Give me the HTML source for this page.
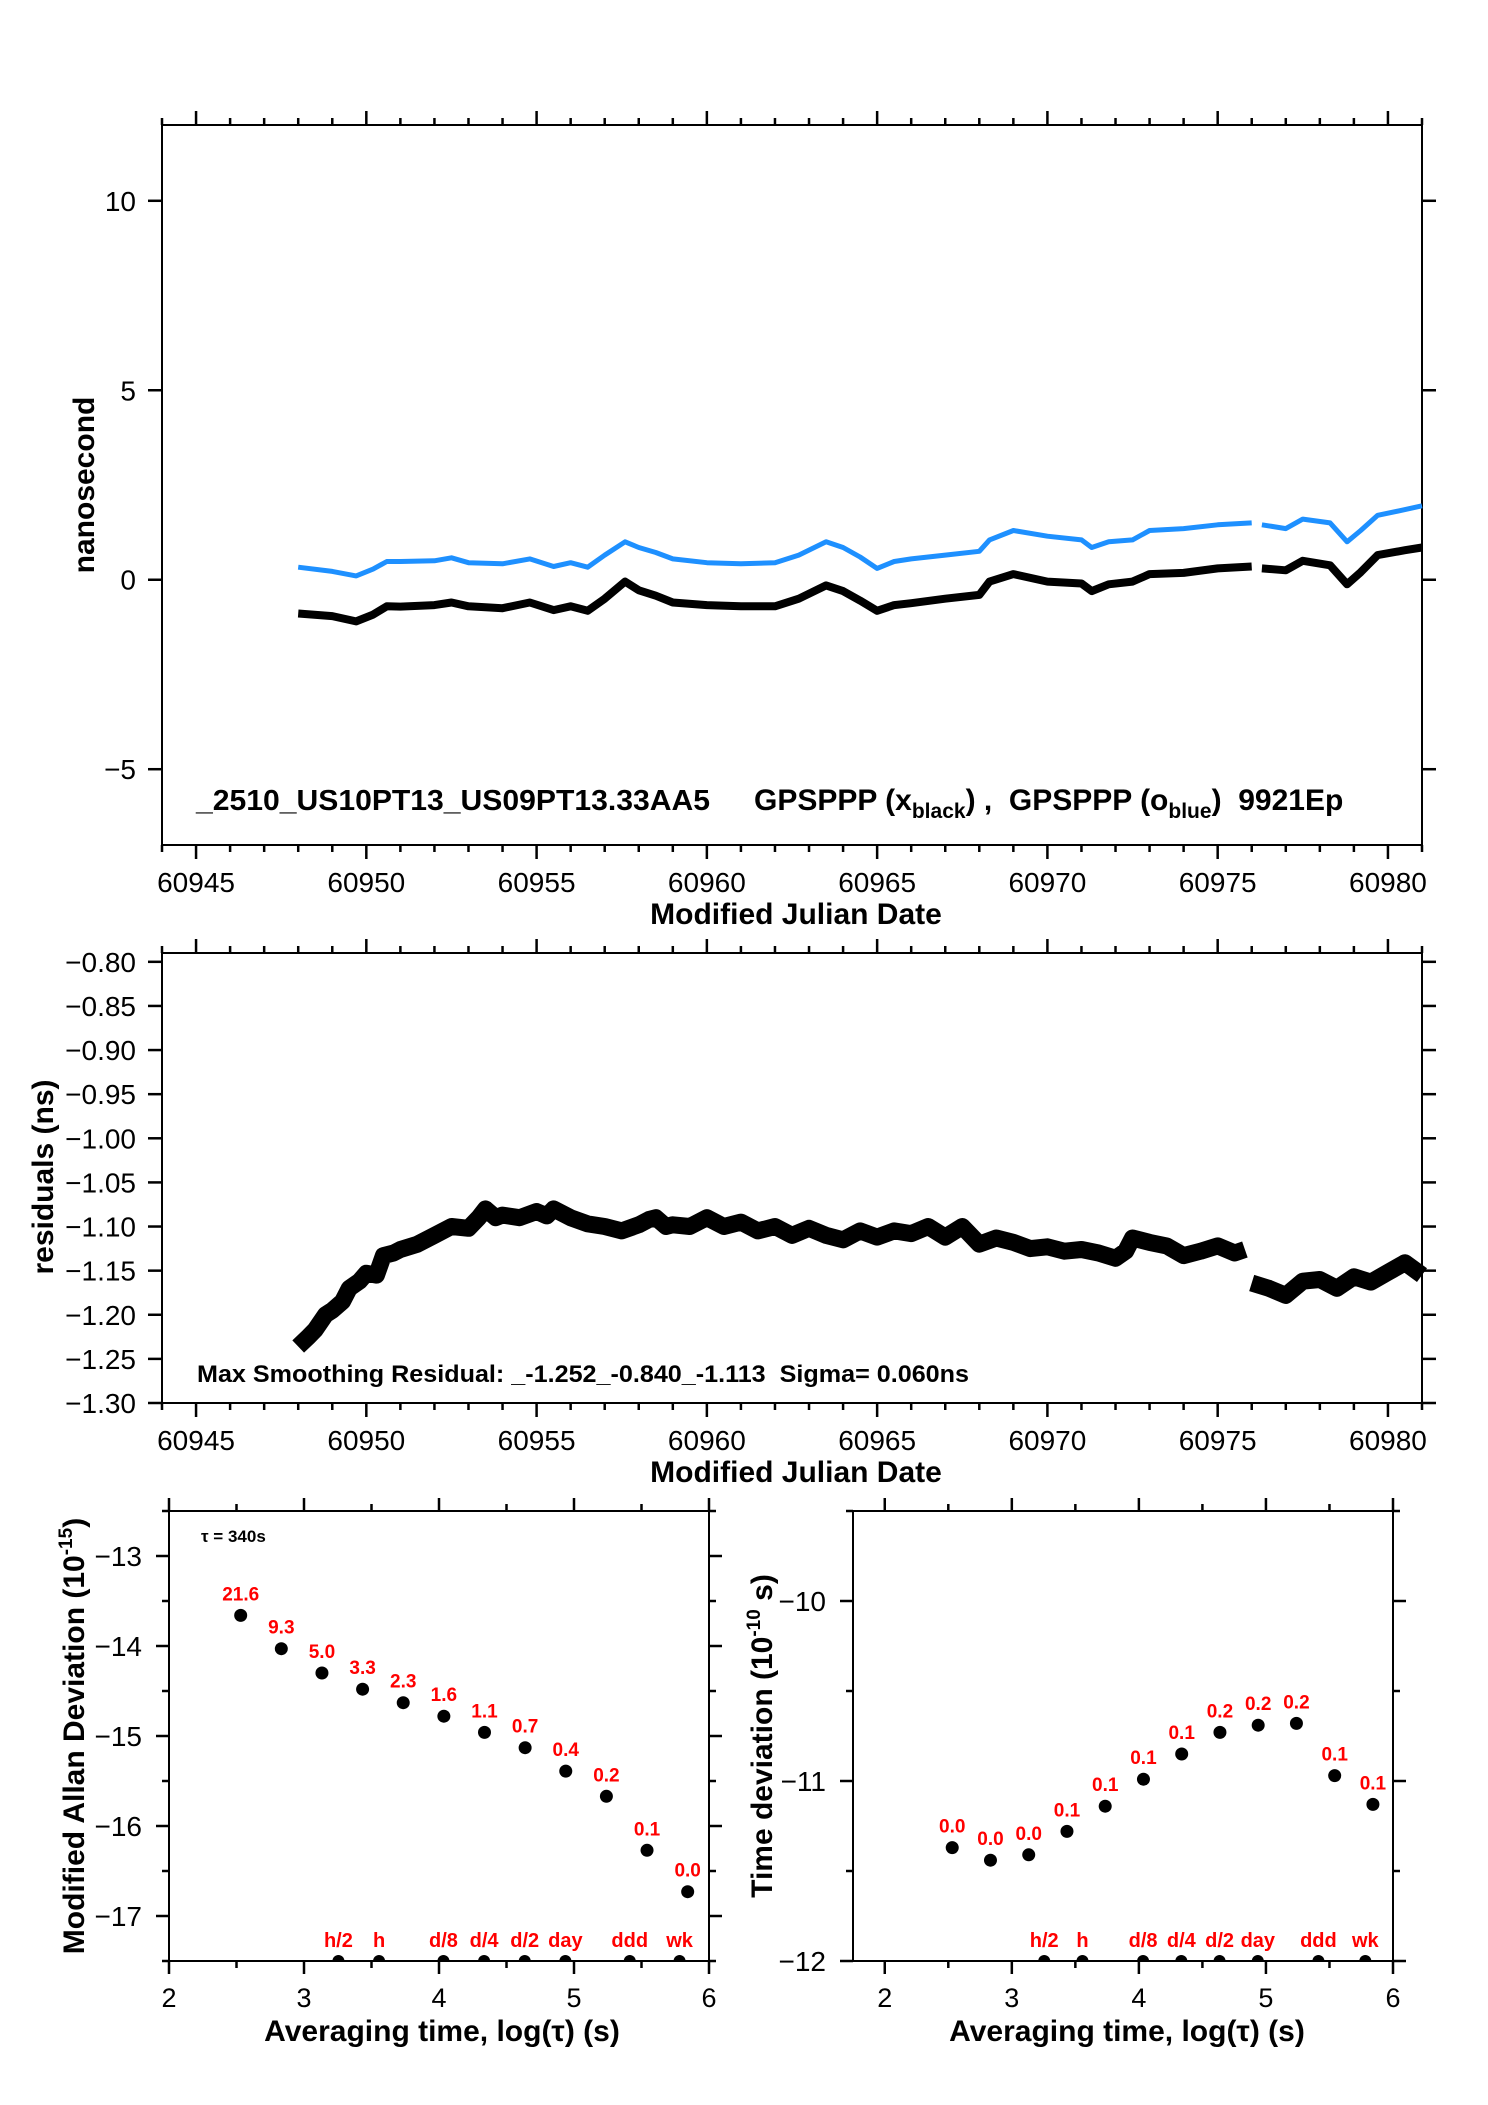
<!DOCTYPE html>
<html><head><meta charset="utf-8"><title>GPSPPP clock comparison</title>
<style>
html,body{margin:0;padding:0;background:#fff;}
svg{display:block;font-family:"Liberation Sans",Arial,sans-serif;}
</style></head>
<body>
<svg id="chart" width="1488" height="2105" viewBox="0 0 1488 2105" xmlns="http://www.w3.org/2000/svg">
<rect width="1488" height="2105" fill="#fff"/>
<g id="g-top"></g>
<g id="g-res"></g>
<g id="g-adev"></g>
<g id="g-tdev"></g>
</svg>
<script>
// ---------- data ----------
const topDays = [60948,60949,60949.7,60950.2,60950.6,60951,60952,60952.5,60953,60954,60954.8,60955.5,60956,60956.5,60957,60957.6,60958,60958.5,60959,60960,60961,60962,60962.7,60963.5,60964,60964.5,60965,60965.5,60966,60967,60968,60968.3,60969,60970,60971,60971.3,60971.8,60972.5,60973,60974,60975,60976,60976.15,60976.3,60977,60977.5,60978.3,60978.8,60979.2,60979.7,60980.5,60981];
const blackNs = [-0.89,-0.96,-1.1,-0.92,-0.7,-0.71,-0.67,-0.6,-0.7,-0.75,-0.6,-0.8,-0.7,-0.82,-0.5,-0.05,-0.28,-0.42,-0.6,-0.67,-0.7,-0.7,-0.5,-0.15,-0.3,-0.55,-0.82,-0.67,-0.62,-0.5,-0.4,-0.05,0.15,-0.05,-0.1,-0.3,-0.12,-0.05,0.15,0.18,0.3,0.35,null,0.3,0.25,0.5,0.38,-0.12,0.2,0.65,0.78,0.85];
const blueNs = [0.33,0.22,0.1,0.28,0.48,0.48,0.5,0.58,0.45,0.42,0.55,0.35,0.45,0.33,0.65,1.0,0.85,0.72,0.55,0.45,0.42,0.45,0.65,1.0,0.85,0.6,0.3,0.48,0.55,0.65,0.75,1.05,1.3,1.15,1.05,0.85,1.0,1.05,1.3,1.35,1.45,1.5,null,1.45,1.35,1.6,1.5,1.0,1.3,1.7,1.85,1.95];
const resDays = [60948,60948.3,60948.5,60948.8,60949,60949.3,60949.5,60949.8,60950,60950.3,60950.5,60950.8,60951,60951.5,60952,60952.5,60953,60953.3,60953.5,60953.8,60954,60954.5,60955,60955.3,60955.5,60956,60956.5,60957,60957.5,60958,60958.3,60958.5,60958.8,60959,60959.5,60960,60960.5,60961,60961.5,60962,60962.5,60963,60963.5,60964,60964.5,60965,60965.5,60966,60966.5,60967,60967.5,60968,60968.5,60969,60969.5,60970,60970.5,60971,60971.5,60972,60972.3,60972.5,60973,60973.5,60974,60974.5,60975,60975.5,60975.8,60975.9,60976,60976.5,60977,60977.5,60978,60978.5,60979,60979.5,60980,60980.5,60981];
const resNs = [-1.236,-1.225,-1.217,-1.2,-1.195,-1.185,-1.17,-1.162,-1.153,-1.155,-1.133,-1.13,-1.126,-1.12,-1.11,-1.1,-1.102,-1.09,-1.08,-1.09,-1.087,-1.09,-1.083,-1.088,-1.08,-1.09,-1.097,-1.1,-1.105,-1.098,-1.092,-1.09,-1.1,-1.098,-1.1,-1.09,-1.1,-1.095,-1.105,-1.1,-1.11,-1.102,-1.11,-1.115,-1.105,-1.112,-1.105,-1.108,-1.1,-1.112,-1.1,-1.12,-1.113,-1.118,-1.125,-1.123,-1.128,-1.126,-1.13,-1.136,-1.128,-1.113,-1.118,-1.122,-1.133,-1.128,-1.122,-1.13,-1.126,null,-1.164,-1.17,-1.178,-1.162,-1.16,-1.17,-1.157,-1.163,-1.152,-1.141,-1.155];
const logTau = [2.531,2.832,3.133,3.434,3.735,4.036,4.337,4.638,4.939,5.240,5.541,5.842];
const adevVals = [-13.66,-14.03,-14.30,-14.48,-14.63,-14.78,-14.96,-15.13,-15.39,-15.67,-16.27,-16.73];
const adevLabels = ["21.6","9.3","5.0","3.3","2.3","1.6","1.1","0.7","0.4","0.2","0.1","0.0"];
const tdevVals = [-11.37,-11.44,-11.41,-11.28,-11.14,-10.99,-10.85,-10.73,-10.69,-10.68,-10.97,-11.13];
const tdevLabels = ["0.0","0.0","0.0","0.1","0.1","0.1","0.1","0.2","0.2","0.2","0.1","0.1"];
const markNames = ["h/2","h","d/8","d/4","d/2","day","ddd","wk"];
const markLog = [3.255,3.556,4.033,4.334,4.635,4.936,5.413,5.782];
const mjdTicks = [60945,60950,60955,60960,60965,60970,60975,60980];
const nsTicks = [-5,0,5,10];
const resTicks = [-0.80,-0.85,-0.90,-0.95,-1.00,-1.05,-1.10,-1.15,-1.20,-1.25,-1.30];
const adevTicks = [-13,-14,-15,-16,-17];
const tdevTicks = [-10,-11,-12];
const logTicks = [2,3,4,5,6];

const NS = "http://www.w3.org/2000/svg";
function mk(parent, tag, attrs, text){
  const e = document.createElementNS(NS, tag);
  for (const k in attrs) e.setAttribute(k, attrs[k]);
  if (text !== undefined) e.textContent = text;
  parent.appendChild(e);
  return e;
}
function lin(d0,d1,r0,r1){ return v => r0 + (v-d0)*(r1-r0)/(d1-d0); }
function pathFrom(xs, ys, sx, sy){
  let d = "", pen = false;
  for (let i=0;i<xs.length;i++){
    if (ys[i]===null){ pen=false; continue; }
    d += (pen?"L":"M") + sx(xs[i]).toFixed(1) + "," + sy(ys[i]).toFixed(1);
    pen = true;
  }
  return d;
}
function frame(g, x0,y0,x1,y1){
  const r = mk(g,"rect",{x:x0,y:y0,width:x1-x0,height:y1-y0,fill:"none",stroke:"#000","stroke-width":2});
  
  
}
function tick(g,x1,y1,x2,y2){
  const l = mk(g,"line",{x1:x1,y1:y1,x2:x2,y2:y2,stroke:"#000","stroke-width":2.5});
  
  
}

// ---------- Panel 1: time offsets ----------
(function(){
  const g = document.getElementById("g-top");
  const X0=162,X1=1422,Y0=125,Y1=845;
  const sx = lin(60944,60981,X0,X1), sy = lin(-7,12,Y1,Y0);
  frame(g,X0,Y0,X1,Y1);
  for (let d=60944; d<=60981; d++){
    const maj = mjdTicks.includes(d);
    const L = maj?14:7;
    tick(g,sx(d),Y0,sx(d),Y0-L);
    tick(g,sx(d),Y1,sx(d),Y1+L);
  }
  mjdTicks.forEach(d=>{
    const t = mk(g,"text",{x:sx(d),y:892,"font-size":28,"text-anchor":"middle"},String(d));
    
    
  });
  nsTicks.forEach(v=>{
    tick(g,X0,sy(v),X0-14,sy(v));
    tick(g,X1,sy(v),X1+14,sy(v));
    const t = mk(g,"text",{x:136,y:sy(v)+10,"font-size":28,"text-anchor":"end"},v<0?"\u2212"+Math.abs(v):String(v));
    
    
  });
  const bp = mk(g,"path",{d:pathFrom(topDays,blueNs,sx,sy),fill:"none",stroke:"#1e90ff","stroke-width":5,"stroke-linejoin":"round"});
  
  
  const kp = mk(g,"path",{d:pathFrom(topDays,blackNs,sx,sy),fill:"none",stroke:"#000","stroke-width":8,"stroke-linejoin":"round"});
  
  
  const yl = mk(g,"text",{x:0,y:0,"font-size":30,"font-weight":"bold","text-anchor":"middle",transform:"translate(94,485) rotate(-90)"},"nanosecond");
  
  
  const xl = mk(g,"text",{x:796,y:924,"font-size":30,"font-weight":"bold","text-anchor":"middle"},"Modified Julian Date");
  
  
  const t1 = mk(g,"text",{x:196,y:810,"font-size":29,"font-weight":"bold",textLength:514,lengthAdjust:"spacingAndGlyphs"},"_2510_US10PT13_US09PT13.33AA5");
  
  
  const t2 = mk(g,"text",{x:754,y:810,"font-size":30,"font-weight":"bold"});
  
  
  mk(t2,"tspan",{},"GPSPPP (x");
  mk(t2,"tspan",{"font-size":21,dy:8},"black");
  mk(t2,"tspan",{dy:-8},")\u00a0,\u00a0\u00a0GPSPPP (o");
  mk(t2,"tspan",{"font-size":21,dy:8},"blue");
  mk(t2,"tspan",{dy:-8},")\u00a0\u00a09921Ep");
})();

// ---------- Panel 2: residuals ----------
(function(){
  const g = document.getElementById("g-res");
  const X0=162,X1=1422,Y0=953,Y1=1403;
  const sx = lin(60944,60981,X0,X1), sy = lin(-1.30,-0.79,Y1,Y0);
  frame(g,X0,Y0,X1,Y1);
  for (let d=60944; d<=60981; d++){
    const maj = mjdTicks.includes(d);
    const L = maj?14:7;
    tick(g,sx(d),Y0,sx(d),Y0-L);
    tick(g,sx(d),Y1,sx(d),Y1+L);
  }
  mjdTicks.forEach(d=>{
    const t = mk(g,"text",{x:sx(d),y:1450,"font-size":28,"text-anchor":"middle"},String(d));
    
    
  });
  resTicks.forEach(v=>{
    tick(g,X0,sy(v),X0-14,sy(v));
    tick(g,X1,sy(v),X1+14,sy(v));
    const t = mk(g,"text",{x:136,y:sy(v)+10,"font-size":28,"text-anchor":"end"},"\u2212"+Math.abs(v).toFixed(2));
    
    
  });
  const rp = mk(g,"path",{d:pathFrom(resDays,resNs,sx,sy),fill:"none",stroke:"#000","stroke-width":17,"stroke-linejoin":"round"});
  
  
  const yl = mk(g,"text",{x:0,y:0,"font-size":30,"font-weight":"bold","text-anchor":"middle",transform:"translate(53,1177) rotate(-90)"},"residuals (ns)");
  
  
  const xl = mk(g,"text",{x:796,y:1482,"font-size":30,"font-weight":"bold","text-anchor":"middle"},"Modified Julian Date");
  
  
  const st = mk(g,"text",{x:197,y:1382,"font-size":24,"font-weight":"bold",textLength:772,lengthAdjust:"spacingAndGlyphs"},"Max Smoothing Residual: _-1.252_-0.840_-1.113\u00a0\u00a0Sigma= 0.060ns");
  
  
})();

// ---------- stability panels ----------
function stabPanel(gid, X0,X1,Y0,Y1, xd0, yd0, yd1, yMaj, yMinStep, vals, labels, labelRight, ylabelX, ylabelMain, ylabelSup, ylabelTail, xlabelX){
  const g = document.getElementById(gid);
  const sx = lin(xd0,6,X0,X1), sy = lin(yd0,yd1,Y1,Y0);
  frame(g,X0,Y0,X1,Y1);
  for (let v=2; v<=6.001; v+=0.5){
    const maj = Math.abs(v-Math.round(v))<1e-6;
    const L = maj?13:7;
    tick(g,sx(v),Y0,sx(v),Y0-L);
    tick(g,sx(v),Y1,sx(v),Y1+L);
  }
  logTicks.forEach(v=>{
    const t = mk(g,"text",{x:sx(v),y:2007,"font-size":27,"text-anchor":"middle"},String(v));
    
    
  });
  for (let v=yd0; v<=yd1+1e-6; v+=yMinStep){
    const maj = Math.abs(v-Math.round(v))<1e-6;
    const L = maj?13:7;
    tick(g,X0,sy(v),X0-L,sy(v));
    tick(g,X1,sy(v),X1+L,sy(v));
  }
  yMaj.forEach(v=>{
    const t = mk(g,"text",{x:labelRight,y:sy(v)+10,"font-size":28,"text-anchor":"end"},"\u2212"+Math.abs(v));
    
    
  });
  vals.forEach((v,i)=>{
    const c = mk(g,"circle",{cx:sx(logTau[i]),cy:sy(v),r:6.5,fill:"#000"});
    
    
    const t = mk(g,"text",{x:sx(logTau[i]),y:sy(v)-15,"font-size":19,"font-weight":"bold",fill:"#ff0000","text-anchor":"middle"},labels[i]);
    
    
  });
  markNames.forEach((m,i)=>{
    const c = mk(g,"path",{d:`M${sx(markLog[i])-6},${Y1} a6,6 0 0 1 12,0 z`,fill:"#000"});
    
    
    const t = mk(g,"text",{x:sx(markLog[i]),y:Y1-14,"font-size":20,"font-weight":"bold",fill:"#ff0000","text-anchor":"middle"},m);
    
    
  });
  const yl = mk(g,"text",{x:0,y:0,"font-size":30,"font-weight":"bold","text-anchor":"middle",transform:`translate(${ylabelX},1736) rotate(-90)`});
  
  
  mk(yl,"tspan",{},ylabelMain);
  mk(yl,"tspan",{"font-size":19,dy:-12},ylabelSup);
  mk(yl,"tspan",{dy:12},ylabelTail);
  const xl = mk(g,"text",{x:xlabelX,y:2041,"font-size":30,"font-weight":"bold","text-anchor":"middle"},"Averaging time, log(\u03c4) (s)");
  
  
  return g;
}
const gA = stabPanel("g-adev",169,709,1511,1961,2,-17.5,-12.5,adevTicks,0.5,adevVals,adevLabels,142,84,"Modified Allan Deviation (10","-15",")",442);
const tauNote = mk(gA,"text",{x:201,y:1542,"font-size":17,"font-weight":"bold"},"\u03c4 = 340s");


stabPanel("g-tdev",853,1393,1511,1961,1.75,-12,-9.5,tdevTicks,0.5,tdevVals,tdevLabels,826,772,"Time deviation (10","-10","\u00a0s)",1127);
</script>
</body></html>
